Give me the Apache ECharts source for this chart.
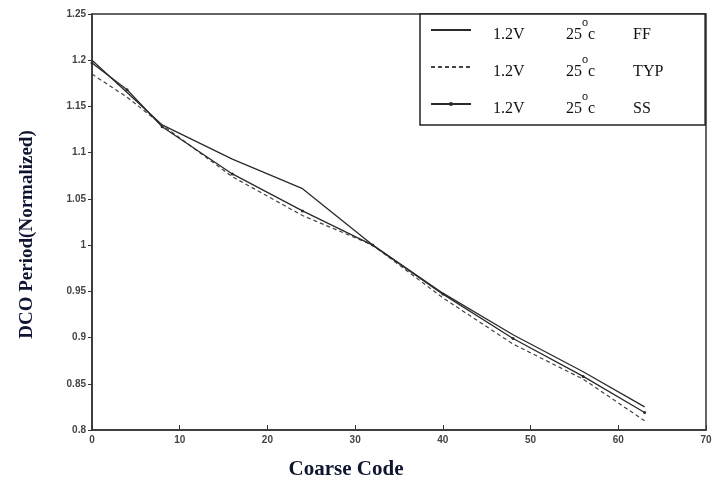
<!DOCTYPE html>
<html>
<head>
<meta charset="utf-8">
<script src="https://cdn.jsdelivr.net/npm/echarts@6/dist/echarts.min.js"></script>
<style>
  html, body { margin: 0; padding: 0; background: #fff; }
  #main { width: 727px; height: 485px; }
</style>
</head>
<body>
<div id="main"></div>
<script>
// coarse code sample points
var codes = [0, 4, 8, 16, 24, 32, 40, 48, 56, 63];
// normalized DCO period per corner
var ffVals  = [1.200, 1.165, 1.130, 1.093, 1.061, 1.000, 0.948, 0.903, 0.863, 0.825];
var typVals = [1.185, 1.160, 1.130, 1.074, 1.032, 1.000, 0.943, 0.893, 0.855, 0.810];
var ssVals  = [1.197, 1.168, 1.128, 1.077, 1.037, 1.000, 0.947, 0.899, 0.858, 0.819];
var xTicks = [0, 10, 20, 30, 40, 50, 60, 70];
var yTicks = [0.8, 0.85, 0.9, 0.95, 1, 1.05, 1.1, 1.15, 1.2, 1.25];

function pairs(vals) {
  return codes.map(function (c, i) { return [c, vals[i]]; });
}

var myChart = echarts.init(document.getElementById('main'));

var lineColor = '#2a2a2a';

option = {
  backgroundColor: '#fff',
  animation: false,
  grid: {
    left: 92, right: 21, top: 14, bottom: 54,
    show: true, borderColor: '#333', borderWidth: 1.5
  },
  legend: {
    orient: 'vertical',
    left: 420,
    top: 14,
    padding: [3, 22, 8, 10],
    itemWidth: 40,
    itemHeight: 5,
    itemGap: 11,
    borderColor: '#222',
    borderWidth: 1.5,
    backgroundColor: '#fff',
    data: [
      { name: 'FF', itemStyle: { opacity: 0 } },
      { name: 'TYP', itemStyle: { opacity: 0 } },
      { name: 'SS' }
    ],
    formatter: function (name) {
      return '{v|1.2V}{t|25}{o|o}{c|c}{n|' + name + '}';
    },
    textStyle: {
      fontFamily: 'Liberation Serif',
      fontSize: 16,
      color: '#111',
      rich: {
        v: { fontSize: 16, fontFamily: 'Liberation Serif', width: 73, padding: [0, 0, 0, 17], lineHeight: 26, verticalAlign: 'bottom' },
        t: { fontSize: 16, fontFamily: 'Liberation Serif', lineHeight: 26, verticalAlign: 'bottom' },
        o: { fontSize: 11, fontFamily: 'Liberation Sans', lineHeight: 11, verticalAlign: 'top', padding: [0, 0, 0, 0] },
        c: { fontSize: 16, fontFamily: 'Liberation Serif', width: 45, lineHeight: 26, verticalAlign: 'bottom' },
        n: { fontSize: 16, fontFamily: 'Liberation Serif', width: 50, lineHeight: 26, verticalAlign: 'bottom' }
      }
    }
  },
  xAxis: {
    type: 'value',
    min: 0, max: 70, interval: 10,
    name: 'Coarse Code',
    nameLocation: 'middle',
    nameGap: 29,
    nameTextStyle: {
      fontFamily: 'Liberation Serif', fontWeight: 'bold', fontSize: 21, color: '#0f1530',
      padding: [0, 106, 0, 0]
    },
    axisLine: { lineStyle: { color: '#333', width: 1.5 } },
    axisTick: { inside: true, length: 5, lineStyle: { color: '#333' } },
    axisLabel: {
      fontFamily: 'Liberation Sans', fontSize: 10, fontWeight: 'bold', color: '#444', margin: 5,
      formatter: function (v) { return xTicks.indexOf(v) >= 0 ? String(v) : ''; }
    },
    splitLine: { show: false }
  },
  yAxis: {
    type: 'value',
    min: 0.8, max: 1.25, interval: 0.05,
    name: 'DCO Period(Normalized)',
    nameLocation: 'middle',
    nameGap: 55,
    nameTextStyle: {
      fontFamily: 'Liberation Serif', fontWeight: 'bold', fontSize: 19, color: '#0f1530',
      padding: [0, 25, 0, 0]
    },
    axisLine: { lineStyle: { color: '#333', width: 1.5 } },
    axisTick: { inside: false, length: 4, lineStyle: { color: '#333' } },
    axisLabel: {
      fontFamily: 'Liberation Sans', fontSize: 10, fontWeight: 'bold', color: '#444', margin: 6,
      formatter: function (v) {
        var r = Math.round(v * 100) / 100;
        return yTicks.indexOf(r) >= 0 ? String(r) : '';
      }
    },
    splitLine: { show: false }
  },
  series: [
    {
      name: 'FF', type: 'line', symbol: 'none',
      lineStyle: { color: lineColor, width: 1.3 },
      itemStyle: { color: lineColor },
      data: pairs(ffVals)
    },
    {
      name: 'TYP', type: 'line', symbol: 'none',
      lineStyle: { color: '#444', width: 1.2, type: [4, 3] },
      itemStyle: { color: '#444' },
      data: pairs(typVals)
    },
    {
      name: 'SS', type: 'line', symbol: 'circle', symbolSize: 3,
      lineStyle: { color: lineColor, width: 1.3 },
      itemStyle: { color: lineColor },
      data: pairs(ssVals)
    }
  ]
};

myChart.setOption(option);
</script>
</body>
</html>
